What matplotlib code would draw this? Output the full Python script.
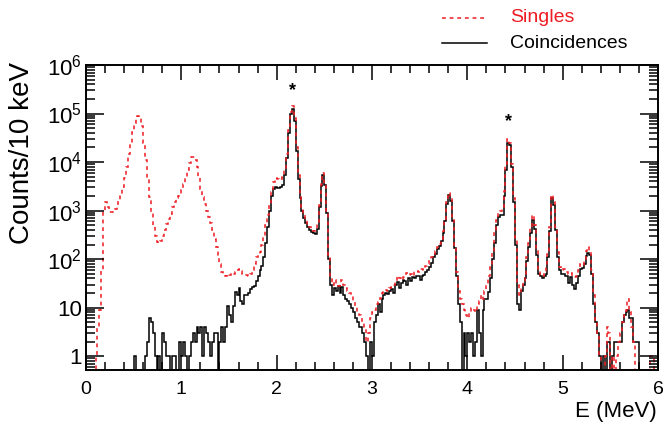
import numpy as np
import matplotlib
matplotlib.use("Agg")
import matplotlib.pyplot as plt
from matplotlib.ticker import LogLocator, MultipleLocator, FuncFormatter, NullFormatter
from matplotlib.lines import Line2D

plt.rcParams['font.family'] = ['Liberation Sans', 'DejaVu Sans']
plt.rcParams['mathtext.fontset'] = 'custom'
plt.rcParams['mathtext.rm'] = 'Liberation Sans'

# 20 keV bins from 0 to 6 MeV, one row = 0.2 MeV
e_min, e_max, n_bins = 0.0, 6.0, 300

singles = [
    0, 0, 0, 0, 0, 1, 4, 9, 60, 1000,
    1500, 1200, 950, 930, 1000, 1070, 1250, 1600, 2100, 3000,
    4800, 8000, 15000, 25000, 42000, 65000, 82000, 90000, 85000, 55000,
    25000, 11000, 4500, 1900, 900, 480, 300, 230, 215, 240,
    300, 400, 520, 680, 850, 1200, 1500, 1800, 2000, 2200,
    2600, 3500, 5000, 7000, 9500, 12500, 13000, 11000, 8000, 5000,
    2800, 1900, 1400, 1000, 750, 560, 400, 260, 180, 120,
    80, 55, 48, 45, 50, 47, 52, 50, 55, 60,
    62, 58, 50, 48, 47, 45, 50, 60, 80, 110,
    125, 140, 200, 300, 500, 800, 1400, 2400, 3800, 4600,
    4500, 4300, 4400, 5000, 7000, 15000, 45000, 110000, 140000, 80000,
    20000, 5500, 2200, 1200, 850, 650, 520, 460, 420, 380,
    400, 520, 1300, 3500, 6000, 3500, 1000, 120, 40, 30,
    38, 30, 28, 33, 38, 30, 25, 22, 20, 17,
    13, 11, 8, 7, 6, 5, 4, 2, 3, 6,
    8, 9, 12, 13, 16, 20, 21, 23, 22, 26,
    27, 30, 36, 44, 40, 38, 42, 48, 52, 47,
    50, 46, 56, 58, 55, 62, 64, 60, 72, 78,
    95, 110, 125, 150, 175, 210, 260, 380, 650, 1500,
    2300, 1800, 700, 200, 55, 22, 15, 12, 9, 7,
    6, 8, 10, 9, 8, 12, 14, 18, 15, 22,
    30, 45, 70, 150, 400, 650, 900, 1000, 1100, 2500,
    9000, 30000, 25000, 9000, 1800, 250, 30, 18, 25, 35,
    50, 110, 220, 450, 800, 500, 150, 60, 48, 45,
    55, 70, 130, 450, 2100, 1500, 450, 140, 70, 60,
    62, 60, 55, 50, 53, 44, 42, 46, 60, 80,
    75, 90, 150, 180, 150, 60, 18, 5, 3, 1,
    0, 0, 1, 4, 3, 0, 1, 0, 1, 2,
    3, 5, 7, 9, 15, 8, 4, 2, 0, 0,
    0, 0, 0, 0, 0, 0, 1, 1, 0, 0,
]

coincidences = [
    0, 0, 0, 0, 0, 0, 0, 0, 0, 0,
    0, 0, 0, 0, 0, 0, 0, 0, 0, 0,
    0, 0, 0, 0, 0, 1, 0, 0, 0, 0,
    0, 1, 2, 6, 5, 3, 1, 0, 1, 0,
    3, 2, 1, 1, 0, 1, 1, 0, 0, 2,
    1, 2, 1, 0, 1, 2, 3, 2, 4, 3,
    4, 1, 4, 3, 2, 1, 2, 3, 3, 0,
    2, 4, 2, 4, 11, 7, 5, 11, 21, 18,
    25, 14, 12, 18, 18, 20, 24, 27, 28, 35,
    46, 60, 72, 110, 220, 450, 1000, 2000, 2800, 3000,
    2950, 2950, 3000, 3300, 5500, 12000, 40000, 100000, 125000, 70000,
    17000, 4500, 1800, 1000, 700, 550, 450, 400, 360, 340,
    330, 420, 1200, 3200, 5500, 3300, 900, 100, 30, 18,
    25, 22, 28, 20, 27, 18, 15, 14, 12, 10,
    8, 6, 5, 4, 4, 3, 2, 1, 0, 2,
    1, 5, 7, 12, 8, 15, 18, 20, 19, 22,
    24, 20, 30, 34, 26, 32, 38, 36, 30, 40,
    36, 42, 40, 44, 46, 38, 44, 48, 55, 60,
    70, 85, 110, 130, 160, 190, 240, 340, 600, 1400,
    2100, 1600, 600, 170, 45, 12, 5, 0, 3, 1,
    3, 2, 3, 1, 2, 9, 3, 1, 9, 15,
    15, 21, 40, 100, 220, 500, 750, 800, 800, 2000,
    7000, 25000, 22000, 8000, 1500, 200, 12, 9, 22, 30,
    40, 90, 180, 350, 650, 420, 120, 50, 44, 40,
    46, 50, 110, 380, 1800, 1300, 400, 110, 60, 50,
    50, 46, 44, 33, 42, 30, 24, 33, 45, 63,
    67, 80, 117, 135, 120, 50, 12, 5, 3, 1,
    0, 1, 0, 2, 2, 0, 1, 2, 2, 2,
    2, 5, 7, 8, 9, 6, 6, 2, 2, 2,
    0, 0, 0, 0, 0, 0, 0, 0, 0, 0,
]

# peaks marked with an asterisk (energy, counts)
marks_e = [2.17, 4.43]
marks_y = [3.0e5, 6.8e4]

red = '#ee1d23'

fig = plt.figure(figsize=(6.65, 4.30), dpi=100)
ax = fig.add_axes([86/665, 60/430, 572/665, 305/430])

edges = np.linspace(e_min, e_max, n_bins + 1)
floor = 0.1  # empty bins drop below the frame
ax.stairs(np.maximum(np.array(coincidences, float), floor), edges, baseline=None,
          color='black', lw=1.1)
ax.stairs(np.maximum(np.array(singles, float), floor), edges, baseline=None,
          color=red, lw=1.1, linestyle=(0, (2.5, 2.5)))

for e, y in zip(marks_e, marks_y):
    ax.text(e, y, '*', ha='center', va='center', fontsize=13, fontweight='bold')

ax.set_yscale('log')
ax.set_xlim(0, 6)
ax.set_ylim(0.52, 1e6)
ax.xaxis.set_major_locator(MultipleLocator(1))
ax.xaxis.set_minor_locator(MultipleLocator(0.2))
ax.xaxis.set_major_formatter(FuncFormatter(lambda v, p: '%d' % round(v)))
ax.yaxis.set_major_locator(LogLocator(base=10, numticks=10))
ax.yaxis.set_minor_locator(LogLocator(base=10, subs=np.arange(2, 10), numticks=20))
ax.yaxis.set_minor_formatter(NullFormatter())


def ylab(v, pos):
    n = int(round(np.log10(v)))
    if n < 0:
        return ''
    if n == 0:
        return '1'
    if n == 1:
        return '10'
    return r'$\mathregular{10^{%d}}$' % n


ax.yaxis.set_major_formatter(FuncFormatter(ylab))
ax.tick_params(which='both', direction='in', top=True, right=True, width=1.1)
ax.tick_params(axis='x', which='major', length=10.5, labelsize=14, pad=8)
ax.tick_params(axis='x', which='minor', length=5.5)
ax.tick_params(axis='y', which='major', length=13, labelsize=16, pad=3)
ax.tick_params(axis='y', which='minor', length=6.5)
for s in ax.spines.values():
    s.set_linewidth(1.4)

fig.text(22/665, 1 - 62/430, 'Counts/10 keV', rotation=90, ha='center', va='top', fontsize=20)
fig.text(657/665, 1 - 412/430, 'E (MeV)', ha='right', va='center', fontsize=16)

# legend above the frame
fig.add_artist(Line2D([442/665, 487/665], [1 - 18/430] * 2, color=red, lw=1.1,
                      linestyle=(0, (2.5, 2.5))))
fig.add_artist(Line2D([442/665, 487/665], [1 - 43/430] * 2, color='black', lw=1.1))
fig.text(510/665, 1 - 18/430, 'Singles', color=red, ha='left', va='center', fontsize=14)
fig.text(510/665, 1 - 43/430, 'Coincidences', color='black', ha='left', va='center', fontsize=14)

fig.savefig('out.png', dpi=100)
